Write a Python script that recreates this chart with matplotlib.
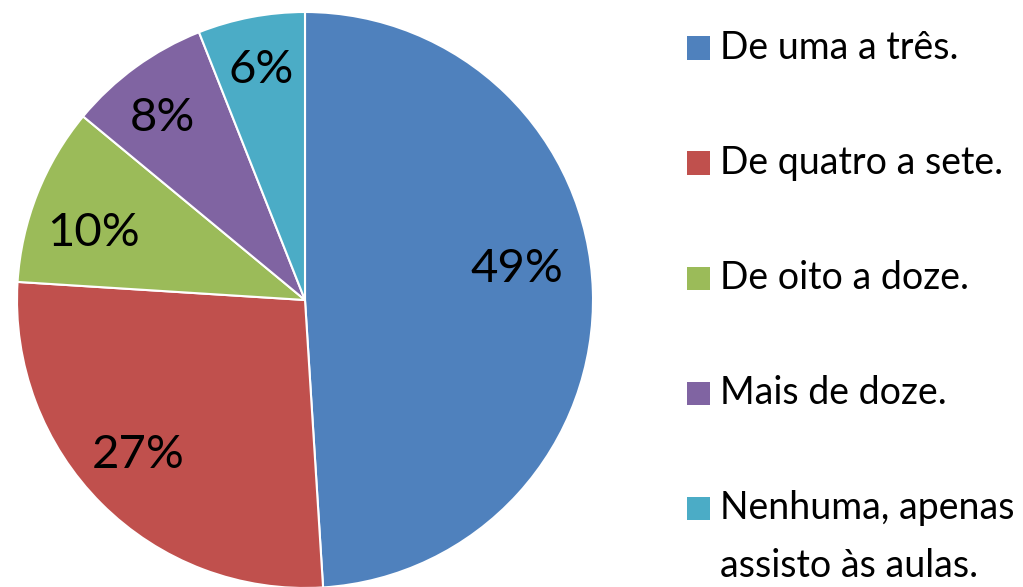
import matplotlib
matplotlib.use("Agg")
import matplotlib.pyplot as plt
from matplotlib.patches import Rectangle

categorias = ["De uma a três.", "De quatro a sete.", "De oito a doze.",
              "Mais de doze.", "Nenhuma, apenas\nassisto às aulas."]
valores = [49, 27, 10, 8, 6]
cores = ["#4F81BD", "#C0504D", "#9BBB59", "#8064A2", "#4BACC6"]

W, H = 1023, 587
fig = plt.figure(figsize=(W / 100, H / 100), dpi=100)
plt.rcParams['font.family'] = ['Lato', 'DejaVu Sans']

# pie centre ~ (305, 300) px, radius ~ 288 px
cx, cy, r = 305, 300, 288
ax = fig.add_axes([(cx - r) / W, (H - cy - r) / H, 2 * r / W, 2 * r / H])
wedges, textos, pcts = ax.pie(valores, colors=cores, startangle=90, counterclock=False,
                              autopct='%1.0f%%', pctdistance=0.77,
                              wedgeprops=dict(edgecolor='white', linewidth=1.5),
                              textprops=dict(fontsize=34, color='black'))
# small nudges so the labels sit where Excel put them
ajustes = [(-0.035, 0.083), (-0.035, 0.007), (-0.017, -0.052), (-0.042, 0.01), (-0.007, 0.042)]
for t, (dx, dy) in zip(pcts, ajustes):
    x, y = t.get_position()
    t.set_position((x + dx, y + dy))
ax.set_xlim(-1, 1)
ax.set_ylim(-1, 1)
ax.set_aspect('equal')
ax.axis('off')

# legend, drawn by hand so the square sits on the first line
linhas_y = [48, 163, 278, 393, 508]
for nome, cor, y in zip(categorias, cores, linhas_y):
    fig.patches.append(Rectangle((687 / W, (H - y - 11.5) / H), 23 / W, 23 / H,
                                 transform=fig.transFigure, facecolor=cor, edgecolor='none'))
    partes = nome.split("\n")
    for i, p in enumerate(partes):
        fig.text(720 / W, (H - y - 58 * i) / H, p, fontsize=27, va='center', ha='left')

fig.savefig("out.png", dpi=100)
